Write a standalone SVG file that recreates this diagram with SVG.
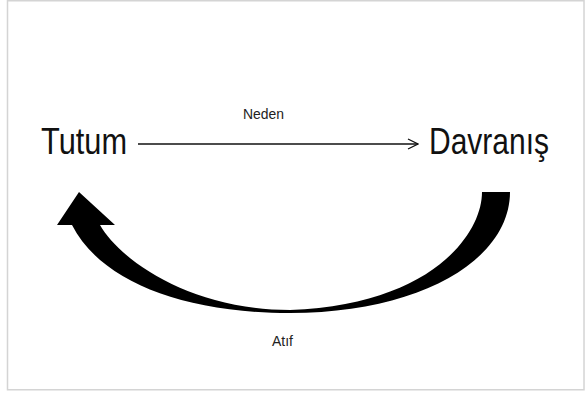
<svg xmlns="http://www.w3.org/2000/svg" width="585" height="398" viewBox="0 0 585 398">
  <style>
    .frame { fill: #ffffff; stroke: #d4d4d4; stroke-width: 1.5; }
    .big { font-family: "Liberation Sans", Arial, sans-serif; font-size: 36px; fill: #111111; }
    .small { font-family: "Liberation Sans", Arial, sans-serif; font-size: 15px; fill: #222222; }
    .line { stroke: #111111; stroke-width: 1.3; fill: none; }
    .thick { fill: #000000; stroke: none; }
  </style>
  <defs>
    <marker id="open" viewBox="0 0 12 12" refX="11" refY="6" markerWidth="12" markerHeight="12" markerUnits="userSpaceOnUse" orient="auto">
      <path d="M1,1 L11,6 L1,11" fill="none" stroke="#111111" stroke-width="1.3"/>
    </marker>
  </defs>
  <rect width="585" height="398" fill="#ffffff"/>
  <rect class="frame" x="7.5" y="0.75" width="576.5" height="389"/>

  <g id="node-tutum">
    <text class="big" x="41" y="154" textLength="86" lengthAdjust="spacingAndGlyphs">Tutum</text>
  </g>
  <g id="node-davranis">
    <text class="big" x="429" y="154" textLength="120" lengthAdjust="spacingAndGlyphs">Davranış</text>
  </g>

  <g id="connectors">
    <line class="line" x1="138" y1="144" x2="418" y2="144" marker-end="url(#open)"/>
    <path class="thick" d="M510,192 C510,260 420,313 290,313 C180,313 100,280 72,225 L57,225 L79,192 L115,225 L100,225 C120,260 190,310 290,310 C430,305 482,235 482,192 Z"/>
  </g>

  <g id="labels">
    <text class="small" x="243" y="119" textLength="41" lengthAdjust="spacingAndGlyphs">Neden</text>
    <text class="small" x="272" y="346" textLength="21" lengthAdjust="spacingAndGlyphs">Atıf</text>
  </g>
</svg>
